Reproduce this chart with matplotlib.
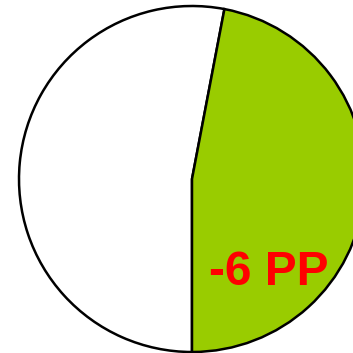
import matplotlib
matplotlib.use("Agg")
import matplotlib.pyplot as plt

labels = ["rest", "share"]
values = [53, 47]
colors = ["white", "#99cc00"]
label_text = "-6 PP"

fig = plt.figure(figsize=(3.53, 3.53), dpi=100)
ax = fig.add_axes([0, 0, 1, 1])

ax.pie(values, colors=colors, startangle=-90, counterclock=False,
       wedgeprops=dict(edgecolor="black", linewidth=1.8))

# circle centre ~(192,179) px, radius ~173 px
r = 173.0
ax.set_xlim(-192 / r, (353 - 192) / r)
ax.set_ylim(-(353 - 179) / r, 179 / r)
ax.set_aspect("auto")
ax.axis("off")

ax.text(0.445, -0.54, label_text, color="red", fontsize=34.5, fontweight="bold",
        family="Liberation Sans", ha="center", va="center")

fig.savefig("out.png", dpi=100)
